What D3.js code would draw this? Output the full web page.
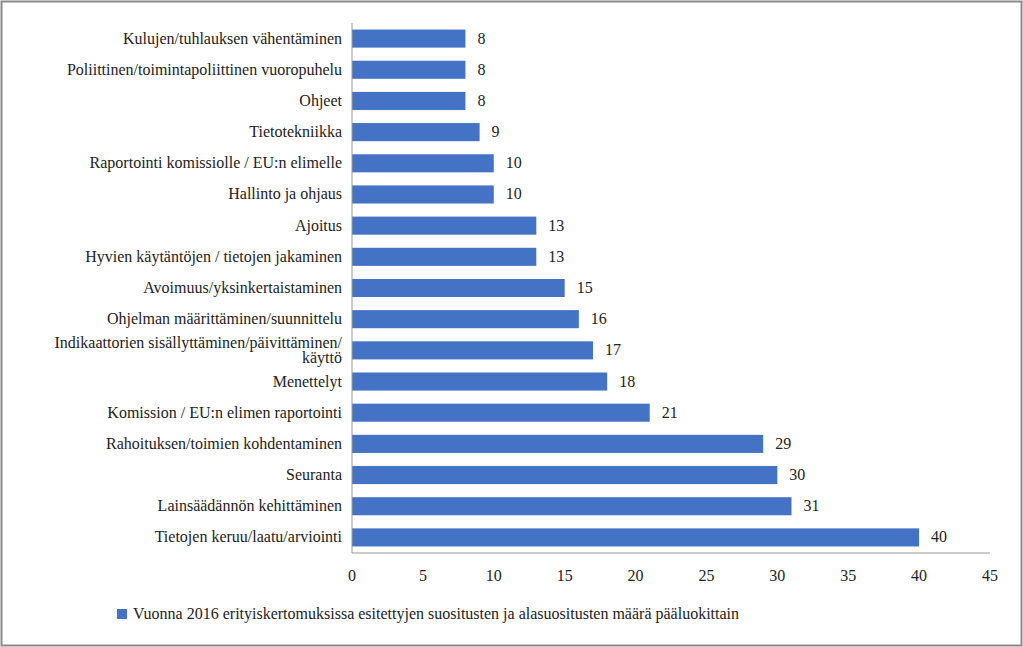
<!DOCTYPE html>
<html><head><meta charset="utf-8">
<script src="https://cdn.jsdelivr.net/npm/d3@7"></script>
<style>body{margin:0;background:#fff}svg{display:block}text{font-family:"Liberation Serif","DejaVu Serif",serif;fill:#222}</style>
</head><body><svg id="c" width="1023" height="647"></svg>
<script>
const categories=["Kulujen/tuhlauksen vähentäminen","Poliittinen/toimintapoliittinen vuoropuhelu","Ohjeet","Tietotekniikka","Raportointi komissiolle / EU:n elimelle","Hallinto ja ohjaus","Ajoitus","Hyvien käytäntöjen / tietojen jakaminen","Avoimuus/yksinkertaistaminen","Ohjelman määrittäminen/suunnittelu","Indikaattorien sisällyttäminen/päivittäminen/|käyttö","Menettelyt","Komission / EU:n elimen raportointi","Rahoituksen/toimien kohdentaminen","Seuranta","Lainsäädännön kehittäminen","Tietojen keruu/laatu/arviointi"];
const values=[8,8,8,9,10,10,13,13,15,16,17,18,21,29,30,31,40];
const ticks=[0,5,10,15,20,25,30,35,40,45];
const legendLabel="Vuonna 2016 erityiskertomuksissa esitettyjen suositusten ja alasuositusten määrä pääluokittain";
const svg=d3.select("#c");
svg.append("rect").attr("x",1.5).attr("y",1.5).attr("width",1020).attr("height",644).attr("fill","none").attr("stroke","#8a8a8a").attr("stroke-width",2);
const x=d3.scaleLinear().domain([0,45]).range([352,990]);
const y=d3.scaleBand().domain(categories).range([23,553]).paddingInner(0.42).paddingOuter(0.21);
const col="#4472c4";
svg.selectAll("rect.b").data(values).enter().append("rect").attr("class","b")
 .attr("x",x(0)).attr("y",(d,i)=>y(categories[i])).attr("width",d=>x(d)-x(0)).attr("height",y.bandwidth()).attr("fill",col);
svg.selectAll("text.v").data(values).enter().append("text").attr("class","v")
 .attr("x",d=>x(d)+12).attr("y",(d,i)=>y(categories[i])+y.bandwidth()/2+5).attr("font-size",16).text(d=>d);
categories.forEach((c,i)=>{const parts=c.split("|");const cy=y(c)+y.bandwidth()/2;
 const t=svg.append("text").attr("text-anchor","end").attr("font-size",16);
 parts.forEach((p,j)=>t.append("tspan").attr("x",x(0)-10).attr("y",cy+5+(j-(parts.length-1)/2)*15).text(p));});
svg.append("line").attr("x1",x(0)).attr("x2",x(0)).attr("y1",23).attr("y2",553).attr("stroke","#999");
svg.append("line").attr("x1",x(0)).attr("x2",x(45)).attr("y1",553).attr("y2",553).attr("stroke","#999");
svg.selectAll("text.t").data(ticks).enter().append("text").attr("text-anchor","middle").attr("font-size",16)
 .attr("x",d=>x(d)).attr("y",581).text(d=>d);
svg.append("rect").attr("x",117).attr("y",609).attr("width",10).attr("height",10).attr("fill",col);
svg.append("text").attr("x",133).attr("y",619).attr("font-size",16).text(legendLabel);
</script></body></html>
